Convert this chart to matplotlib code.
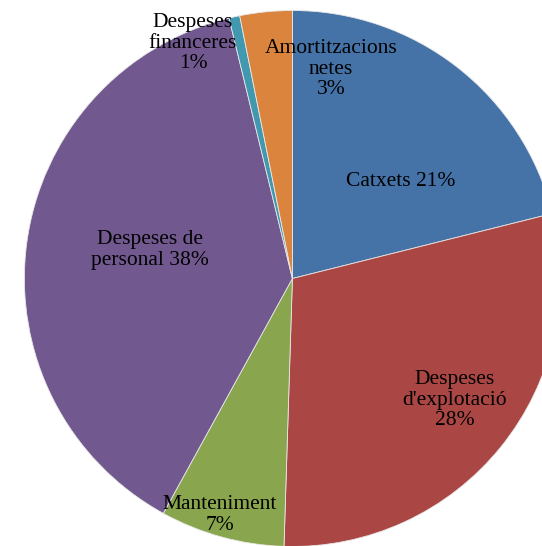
import matplotlib.pyplot as plt

# Chart data (share of total costs)
categories = ['Catxets', "Despeses d'explotació", 'Manteniment',
              'Despeses de personal', 'Despeses financeres', 'Amortitzacions netes']
values = [21.1, 29.4, 7.5, 38.2, 0.65, 3.15]
label_texts = ['Catxets 21%', "Despeses\nd'explotació\n28%", 'Manteniment\n7%',
               'Despeses de\npersonal 38%', 'Despeses\nfinanceres\n1%', 'Amortitzacions\nnetes\n3%']
colors = ['#4572A7', '#AA4643', '#89A54E', '#71588F', '#4198AF', '#DB843D']

W, H = 542, 546
fig = plt.figure(figsize=(W / 100, H / 100), dpi=100)
ax = fig.add_axes([0, 0, 1, 1])

cx, cy, r = 292.4, H - 278.5, 268
ax.pie(values, colors=colors, startangle=90, counterclock=False,
       center=(cx, cy), radius=r,
       wedgeprops=dict(edgecolor='#e8e8e8', linewidth=0.6))

# label placement (pixel positions in the picture, measured from top)
label_pos = [(401, 181), (455, 400), (220, 515), (150, 250), (193, 43), (331, 69)]
for txt, (x, y) in zip(label_texts, label_pos):
    ax.text(x, H - y, txt, ha='center', va='center', fontsize=15.5,
            family=['Liberation Serif', 'DejaVu Serif'], color='black', linespacing=1.08)

ax.set_xlim(0, W)
ax.set_ylim(0, H)
ax.set_aspect('auto')
ax.axis('off')

fig.savefig('out.png', dpi=100)
